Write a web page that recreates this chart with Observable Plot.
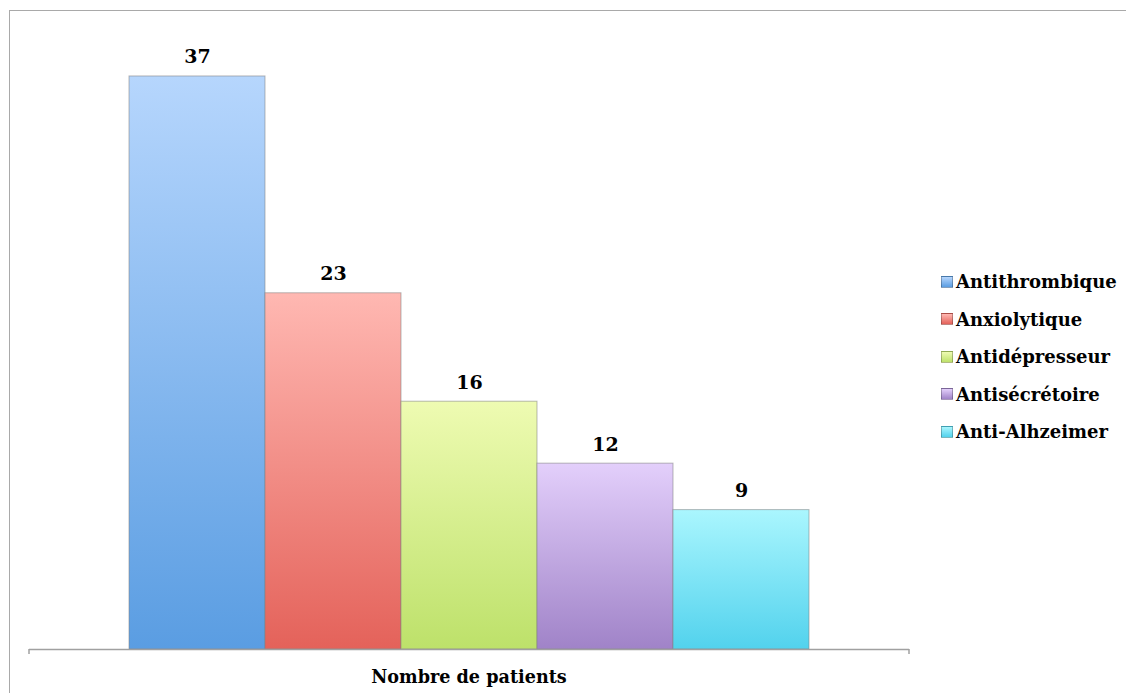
<!DOCTYPE html>
<html>
<head>
<meta charset="utf-8">
<script src="https://cdn.jsdelivr.net/npm/d3@7"></script>
<script src="https://cdn.jsdelivr.net/npm/@observablehq/plot@0.6"></script>
<style>
  html, body { margin: 0; padding: 0; background: #fff; }
  #wrap { position: relative; width: 1126px; height: 693px; overflow: hidden; }
  #frame { position: absolute; left: 9px; top: 10px; width: 1130px; height: 700px;
           border-top: 1.5px solid #a9a9a9; border-left: 1.5px solid #a9a9a9; box-sizing: border-box; }
  #chart { position: absolute; left: 0; top: 0; }
  #legend { position: absolute; left: 941px; top: 263px; font-family: "DejaVu Serif", serif;
            font-weight: bold; font-size: 18px; color: #000; }
  .item { height: 37.5px; display: flex; align-items: center; white-space: nowrap; margin-top: 0; }
  .sw { width: 12px; height: 12px; margin-right: 3px; box-sizing: border-box; border: 0.5px solid rgba(0,0,0,0.25); }
</style>
</head>
<body>
<svg width="0" height="0" style="position:absolute">
  <defs id="gdefs"></defs>
</svg>
<div id="wrap">
  <div id="frame"></div>
  <div id="chart"></div>
  <div id="legend"></div>
</div>
<script>
const categories = ["Antithrombique", "Anxiolytique", "Antidépresseur", "Antisécrétoire", "Anti-Alhzeimer"];
const values = [37, 23, 16, 12, 9];
const topColors = ["#b6d6fd", "#ffb8b2", "#eefbb2", "#e3cffb", "#aaf6fe"];
const bottomColors = ["#5a9de2", "#e4625a", "#bde16a", "#a083c8", "#52d2ed"];
const axisTitle = "Nombre de patients";

const gradIds = categories.map((c, i) => "grad" + i);
const defs = d3.select("#gdefs");
gradIds.forEach((id, i) => {
  const g = defs.append("linearGradient").attr("id", id).attr("x1", 0).attr("y1", 0).attr("x2", 0).attr("y2", 1);
  g.append("stop").attr("offset", "0%").attr("stop-color", topColors[i]);
  g.append("stop").attr("offset", "100%").attr("stop-color", bottomColors[i]);
});

const data = categories.map((c, i) => ({category: c, value: values[i]}));

const W = 1126, H = 693;
const chart = Plot.plot({
  width: W,
  height: H,
  marginLeft: 29,
  marginRight: 217,
  marginTop: 29.5,
  marginBottom: 44,
  style: {fontFamily: "DejaVu Serif, serif", background: "transparent", overflow: "visible"},
  x: {domain: categories, paddingInner: 0, paddingOuter: 0.73, axis: null},
  y: {domain: [0, 40], axis: null},
  color: {domain: categories, range: gradIds.map(id => `url(#${id})`)},
  marks: [
    Plot.barY(data, {x: "category", y: "value", fill: "category", stroke: "#7f7f7f", strokeOpacity: 0.55, strokeWidth: 1, inset: 0}),
    Plot.text(data, {x: "category", y: "value", text: d => String(d.value), dy: -13, lineAnchor: "bottom",
      fontSize: 19, fontWeight: "bold", fill: "#000"}),
    Plot.ruleY([0], {stroke: "#a0a0a0", strokeWidth: 1.5}),
    (index, scales, values, dims) => {
      const g = d3.create("svg:g");
      const y0 = scales.y(0);
      const xl = dims.marginLeft, xr = dims.width - dims.marginRight;
      [xl, xr].forEach(x => g.append("line").attr("x1", x).attr("x2", x).attr("y1", y0).attr("y2", y0 + 5)
        .attr("stroke", "#a0a0a0").attr("stroke-width", 1.5));
      g.append("text").attr("x", (scales.x(categories[0]) + scales.x(categories[categories.length - 1]) + scales.x.bandwidth()) / 2)
        .attr("y", y0 + 34).attr("text-anchor", "middle").attr("font-size", 17.6).attr("font-weight", "bold")
        .attr("fill", "#000").text(axisTitle);
      return g.node();
    }
  ]
});
document.getElementById("chart").appendChild(chart);

const legend = d3.select("#legend");
categories.forEach((c, i) => {
  const it = legend.append("div").attr("class", "item");
  it.append("div").attr("class", "sw").style("background", `linear-gradient(${topColors[i]}, ${bottomColors[i]})`);
  it.append("span").text(c);
});
</script>
</body>
</html>
